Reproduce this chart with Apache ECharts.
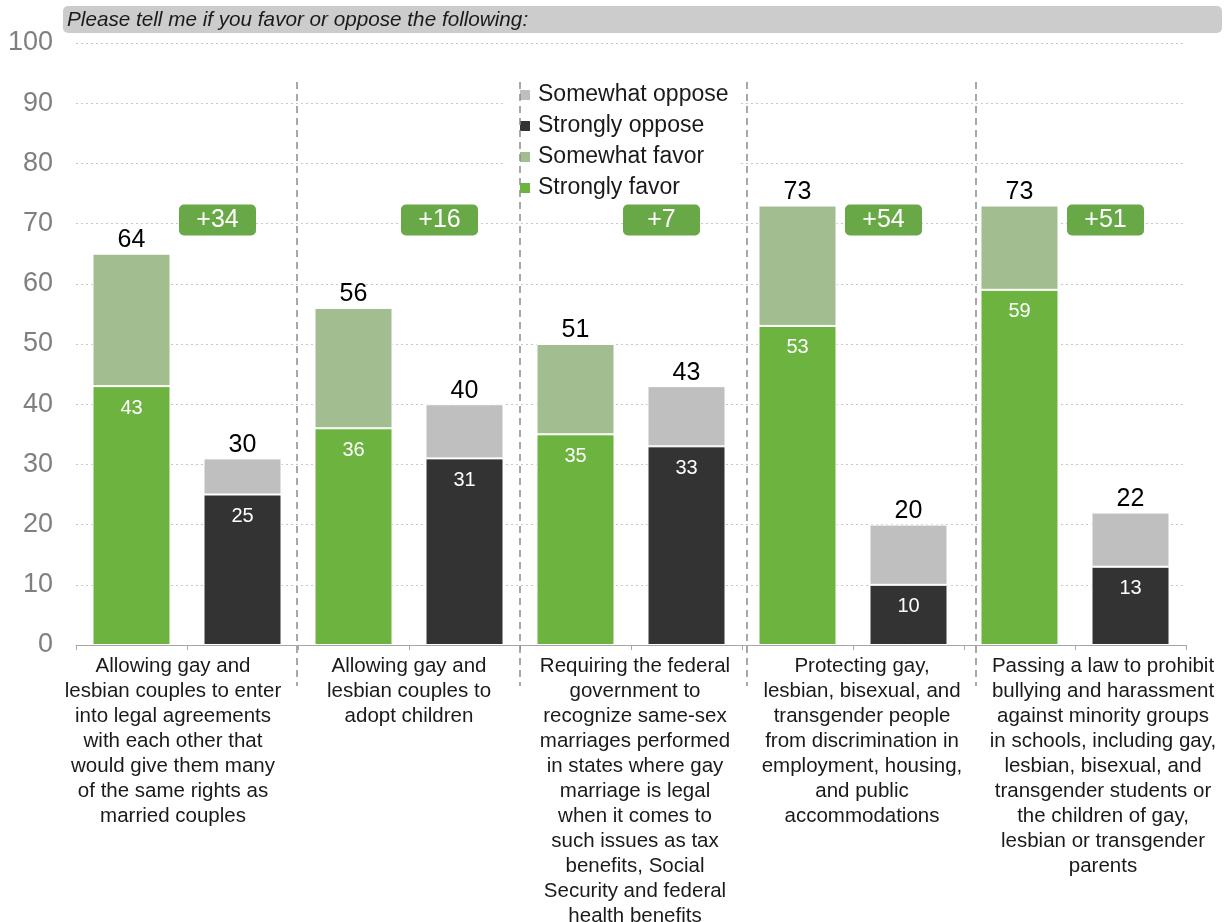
<!DOCTYPE html>
<html>
<head>
<meta charset="utf-8">
<script src="https://cdn.jsdelivr.net/npm/echarts@6/dist/echarts.min.js"></script>
<style>html,body{margin:0;padding:0;background:#fff}#c{width:1228px;height:922px}</style>
</head>
<body>
<div id="c"></div>
<script>
// ---- data ----
var groupLabels = [
  'Allowing gay and\nlesbian couples to enter\ninto legal agreements\nwith each other that\nwould give them many\nof the same rights as\nmarried couples',
  'Allowing gay and\nlesbian couples to\nadopt children',
  'Requiring the federal\ngovernment to\nrecognize same-sex\nmarriages performed\nin states where gay\nmarriage is legal\nwhen it comes to\nsuch issues as tax\nbenefits, Social\nSecurity and federal\nhealth benefits',
  'Protecting gay,\nlesbian, bisexual, and\ntransgender people\nfrom discrimination in\nemployment, housing,\nand public\naccommodations',
  'Passing a law to prohibit\nbullying and harassment\nagainst minority groups\nin schools, including gay,\nlesbian, bisexual, and\ntransgender students or\nthe children of gay,\nlesbian or transgender\nparents'
];
var strongFavor   = [43, 36, 35, 53, 59];
var someFavor     = [22, 20, 15, 20, 14];
var strongOppose  = [25, 31, 33, 10, 13];
var someOppose    = [6, 9, 10, 10, 9];
var favorTotals   = [64, 56, 51, 73, 73];
var opposeTotals  = [30, 40, 43, 20, 22];
var netLabels     = ['+34', '+16', '+7', '+54', '+51'];
var yTicks = [0, 10, 20, 30, 40, 50, 60, 70, 80, 90, 100];

// ---- build interleaved category data (favor bar, oppose bar per group) ----
var cats = [], sF = [], wF = [], sO = [], wO = [], totals = [], netPts = [];
for (var i = 0; i < groupLabels.length; i++) {
  cats.push('f' + i, 'o' + i);
  sF.push(strongFavor[i], '-');
  wF.push(someFavor[i], '-');
  sO.push('-', strongOppose[i]);
  wO.push('-', someOppose[i]);
  totals.push(favorTotals[i], opposeTotals[i]);
  netPts.push({ value: [2 * i + 1, 70.6], name: netLabels[i] });
}
var labelShift = [-14, 0, 4, 9, 28];
var groupAxisData = groupLabels.map(function (t, i) {
  var d = labelShift[i];
  return { value: t, textStyle: { padding: d >= 0 ? [0, 0, 0, 2 * d] : [0, -2 * d, 0, 0] } };
});

var C_SF = '#6db33f', C_WF = '#a2bd8f', C_SO = '#333333', C_WO = '#bfbfbf';

var chart = echarts.init(document.getElementById('c'), null, { renderer: 'canvas' });
var insideLbl = { show: true, position: 'insideTop', distance: 12, color: '#fff', fontSize: 20 };
var topLbl = {
  show: true, position: 'top', distance: 1, color: '#000', fontSize: 25,
  formatter: function (p) { return totals[p.dataIndex]; }
};
chart.setOption({
  animation: false,
  textStyle: { fontFamily: 'Liberation Sans, Arial, sans-serif' },
  grid: { left: 76, right: 42, top: 43, bottom: 277, outerBoundsMode: 'none', containLabel: false },
  legend: {
    orient: 'vertical', left: 506, top: 80,
    padding: [3.5, 10, 3, 12],
    backgroundColor: '#ffffff',
    itemWidth: 12, itemHeight: 12, itemGap: 8, icon: 'rect',
    textStyle: { fontSize: 23, color: '#1a1a1a', padding: [0, 0, 0, 2] },
    data: ['Somewhat oppose', 'Strongly oppose', 'Somewhat favor', 'Strongly favor']
  },
  xAxis: [
    {
      type: 'category', data: cats, gridIndex: 0,
      axisLine: { lineStyle: { color: '#a6a6a6', width: 1 } },
      axisTick: { show: true, interval: 0, length: 5, lineStyle: { color: '#a6a6a6' } },
      axisLabel: { show: false }
    },
    {
      type: 'category', data: groupAxisData, gridIndex: 0, position: 'bottom',
      axisLine: { show: false }, axisTick: { show: false },
      axisLabel: { interval: 0, fontSize: 20.5, lineHeight: 25, color: '#1a1a1a', margin: 8.5, hideOverlap: false }
    }
  ],
  yAxis: {
    type: 'value', min: yTicks[0], max: yTicks[yTicks.length - 1], interval: 10,
    axisLine: { show: false }, axisTick: { show: false },
    axisLabel: { fontSize: 27, color: '#7f7f7f', margin: 23 },
    splitLine: { lineStyle: { type: [2, 3], color: '#c8c8c8', width: 1 } }
  },
  series: [
    { name: 'Strongly favor', type: 'bar', stack: 'all', barWidth: 78, data: sF,
      itemStyle: { color: C_SF, borderColor: '#fff', borderWidth: 1 }, label: insideLbl },
    { name: 'Somewhat favor', type: 'bar', stack: 'all', barWidth: 78, data: wF,
      itemStyle: { color: C_WF, borderColor: '#fff', borderWidth: 1 }, label: topLbl },
    { name: 'Strongly oppose', type: 'bar', stack: 'all', barWidth: 78, data: sO,
      itemStyle: { color: C_SO, borderColor: '#fff', borderWidth: 1 }, label: insideLbl },
    { name: 'Somewhat oppose', type: 'bar', stack: 'all', barWidth: 78, data: wO,
      itemStyle: { color: C_WO, borderColor: '#fff', borderWidth: 1 }, label: topLbl },
    { name: 'net', type: 'scatter', data: netPts, symbolSize: 1, z: 5,
      itemStyle: { color: 'rgba(0,0,0,0)', opacity: 1 },
      label: {
        show: true, position: 'inside', offset: [-25, 0], opacity: 1,
        formatter: function (p) { return p.name; },
        backgroundColor: '#68a847', borderRadius: 5,
        width: 77, height: 31, lineHeight: 31, align: 'center', verticalAlign: 'middle',
        color: '#fff', fontSize: 25
      }
    }
  ],
  graphic: [
    { type: 'rect', z: 100, shape: { x: 63, y: 6, width: 1159, height: 27, r: 5 }, style: { fill: '#cccccc' } },
    { type: 'text', z: 101, x: 67, y: 20, style: { text: 'Please tell me if you favor or oppose the following:',
      font: 'italic 20.7px "Liberation Sans", Arial, sans-serif', fill: '#1a1a1a', verticalAlign: 'middle' } }
  ].concat([297, 520, 747, 976].map(function (x) {
    return { type: 'line', z: 100, shape: { x1: x, y1: 82, x2: x, y2: 686 },
      style: { stroke: '#8c8c8c', lineWidth: 1.5, lineDash: [7, 5] } };
  }))
});
</script>
</body>
</html>
